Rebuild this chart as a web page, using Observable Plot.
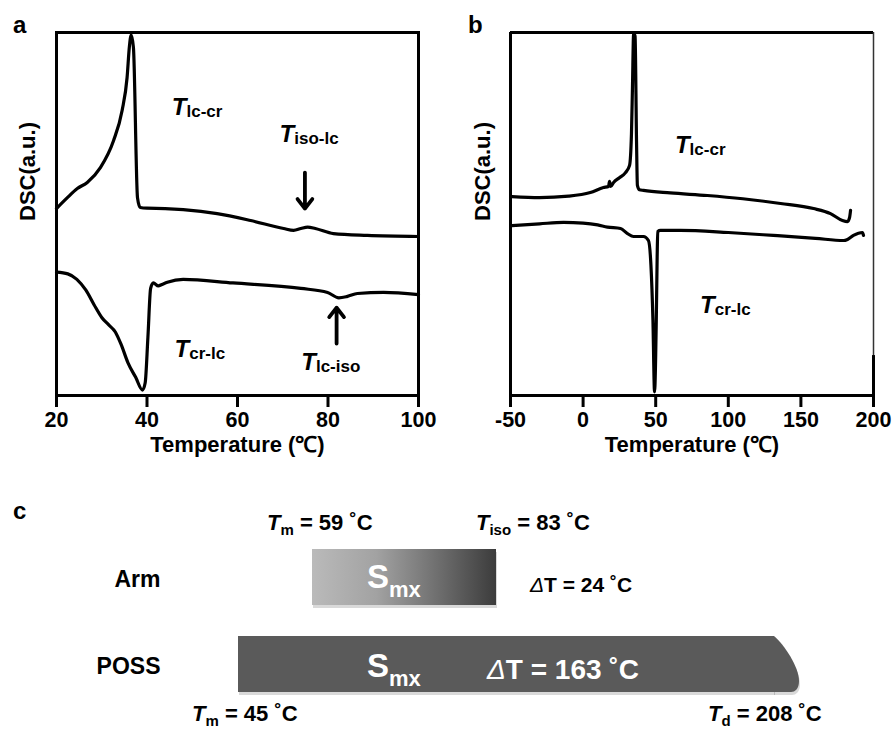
<!DOCTYPE html>
<html><head><meta charset="utf-8">
<script src="https://cdn.jsdelivr.net/npm/d3@7"></script>
<script src="https://cdn.jsdelivr.net/npm/@observablehq/plot@0.6"></script>
<style>
html,body{margin:0;padding:0;background:#fff;}
#fig{position:relative;width:893px;height:731px;overflow:hidden;background:#fff;}
</style></head><body><div id="fig"></div>
<script>
// ---------- data ----------
// panel a (arm): cooling (upper) and heating (lower) traces, DSC in arbitrary units
const aCoolT = [20, 22.4, 24.6, 26.8, 29.7, 32.6, 34.5, 35.6, 36.1, 36.5, 37.0, 37.9, 38.5, 40, 44, 48, 55.5, 62.9, 70.2, 72.4, 74.0, 75.5, 77.2, 81.2, 88.7, 100];
const aCoolV = [51.5, 54.5, 57.0, 58.7, 62.8, 70.2, 78.5, 87.6, 96.0, 99.3, 95.9, 54.5, 51.8, 51.6, 51.5, 51.2, 50.1, 48.2, 46.0, 45.5, 46.0, 46.4, 46.0, 44.6, 44.1, 43.8];
const aHeatT = [20, 22.5, 24.5, 26.5, 28.3, 30.0, 31.5, 33.0, 34.3, 35.8, 37.5, 39.0, 39.6, 40.2, 40.8, 41.4, 42.5, 43.3, 44.5, 48, 59, 74, 79.9, 82.4, 84.3, 86.5, 92.3, 100];
const aHeatV = [34.0, 33.5, 32.0, 29.0, 25.0, 21.5, 19.5, 17.5, 14.0, 9.0, 5.0, 1.5, 3.5, 16, 29.5, 31.0, 30.2, 30.6, 31.2, 32.0, 31.0, 29.5, 28.4, 26.9, 27.3, 28.1, 28.4, 27.8];
const aTicks = [20, 40, 60, 80, 100];
const aLabelSub = ["lc-cr", "iso-lc", "cr-lc", "lc-iso"];
const aLabelT = [45.6, 69.4, 46.2, 74.2];
const aLabelV = [77.1, 69.7, 10.5, 6.9];
const aArrowT = [74.9, 81.9];
const aArrowFrom = [61.4, 14.3];
const aArrowTo = [51.5, 24.2];

// panel b (POSS)
const bCoolT = [-49, -30, -10, 5, 14, 17.5, 18.2, 19.0, 21, 25, 29.2, 32.0, 33.3, 34.0, 34.8, 35.8, 36.8, 37.4, 38.8, 41.6, 60, 85.6, 110, 136, 158.7, 170.4, 178.6, 182.1, 183.5, 184.2];
const bCoolV = [54.8, 54.5, 54.9, 55.9, 57.3, 57.6, 59.0, 57.6, 58.7, 60.0, 61.4, 63.4, 72, 85, 99.7, 99.0, 70, 57.9, 56.7, 56.5, 55.8, 55.1, 54.2, 52.9, 51.5, 50.1, 48.2, 47.9, 49.0, 51.0];
const bHeatT = [-49, -30, -13.5, 0, 10, 16.8, 25.8, 30.6, 34.7, 41.6, 45.0, 46.7, 48.1, 49.2, 50.4, 51.0, 51.4, 53.3, 67, 100, 131, 160, 179.3, 182.1, 186.2, 192.4, 193.1];
const bHeatV = [46.8, 47.3, 47.7, 47.5, 47.0, 46.4, 46.0, 44.6, 43.8, 43.8, 42.7, 36, 20.7, 1.0, 20.7, 38, 45.2, 45.5, 45.5, 44.9, 44.1, 43.3, 42.7, 43.0, 44.1, 44.9, 44.1];
const bTicks = [-50, 0, 50, 100, 150, 200];
const bLabelSub = ["lc-cr", "cr-lc"];
const bLabelT = [63.6, 80.9];
const bLabelV = [66.7, 22.6];

// panel c (mesophase windows)
const cRows = ["Arm", "POSS"];
const cOnset = [59, 45];
const cEnd = [83, 208];
const cEndSymbol = ["iso", "d"];
const cDelta = [24, 163];

// ---------- helpers ----------
const NS = "http://www.w3.org/2000/svg";
const FONT = "'Liberation Sans', Arial, Helvetica, sans-serif";
const toRows = (xs, ys) => xs.map((x, i) => ({T: x, v: ys[i]}));

function richMark(items) {
  return (index, scales, values, dims) => {
    const g = document.createElementNS(NS, "g");
    for (const it of items) {
      let x, y;
      if (it.frame) { x = dims.marginLeft; y = dims.marginTop; }
      else {
        x = scales.x(it.x);
        const sy = scales.y;
        y = typeof it.y === "string" ? sy(it.y) + sy.bandwidth() / 2 : sy(it.y);
      }
      x += it.dx || 0; y += it.dy || 0;
      const t = document.createElementNS(NS, "text");
      t.setAttribute("x", x); t.setAttribute("y", y);
      t.setAttribute("text-anchor", it.anchor || "start");
      t.setAttribute("fill", it.fill || "black");
      t.setAttribute("font-family", FONT);
      t.style.whiteSpace = "pre";
      let shift = 0;
      for (const p of it.parts) {
        const s = document.createElementNS(NS, "tspan");
        s.textContent = p.text;
        s.setAttribute("font-size", p.size);
        s.setAttribute("font-weight", p.weight || "bold");
        if (p.italic) s.setAttribute("font-style", "italic");
        const sh = p.shift || 0;
        if (sh !== shift) { s.setAttribute("dy", sh - shift); shift = sh; }
        t.appendChild(s);
      }
      g.appendChild(t);
    }
    return g;
  };
}
const tSub = (sub) => [{text: "T", size: 24, italic: true}, {text: sub, size: 17, shift: 2}];
const svgStyle = (left, top) =>
  `position:absolute;left:${left}px;top:${top}px;font-family:${FONT};font-size:21px;font-weight:bold;overflow:visible;background:transparent;max-width:none;color:black;`;

const axisOpts = (ticks) => ({ticks, tickSize: 12, tickPadding: 4, strokeWidth: 3, fontSize: 21.5, fontWeight: "bold", tickFormat: d => String(d), label: null});
const lineOpts = {x: "T", y: "v", stroke: "black", strokeWidth: 3.2, curve: "monotone-x", strokeLinejoin: "round"};

// ---------- panel a ----------
const aPlot = Plot.plot({
  width: 440, height: 470,
  marginLeft: 56, marginRight: 22, marginTop: 32, marginBottom: 75,
  style: svgStyle(0, 0),
  x: {domain: [20, 100]},
  y: {domain: [0, 100], axis: null},
  marks: [
    Plot.frame({stroke: "black", strokeWidth: 3}),
    Plot.line(toRows(aCoolT, aCoolV), lineOpts),
    Plot.line(toRows(aHeatT, aHeatV), lineOpts),
    Plot.arrow(aArrowT.map((t, i) => ({t, from: aArrowFrom[i], to: aArrowTo[i]})),
      {x1: "t", x2: "t", y1: "from", y2: "to", stroke: "black", strokeWidth: 3.8, headLength: 20, headAngle: 76}),
    Plot.axisX(axisOpts(aTicks)),
    Plot.text(["Temperature (℃)"], {frameAnchor: "bottom", dy: 56, fontSize: 22, fontWeight: "bold"}),
    Plot.text(["DSC(a.u.)"], {frameAnchor: "left", rotate: -90, dx: -29, dy: 7, fontSize: 22, fontWeight: "bold"}),
    richMark(aLabelSub.map((s, i) => ({x: aLabelT[i], y: aLabelV[i], parts: tSub(s)}))),
    richMark([{frame: true, dx: -43, dy: 1, parts: [{text: "a", size: 24}]}])
  ]
});

// ---------- panel b ----------
const bPlot = Plot.plot({
  width: 453, height: 470,
  marginLeft: 70, marginRight: 20, marginTop: 32, marginBottom: 75,
  style: svgStyle(440, 0),
  x: {domain: [-50, 200]},
  y: {domain: [0, 100], axis: null},
  marks: [
    Plot.ruleY([100], {stroke: "black", strokeWidth: 3}),
    Plot.ruleY([0], {stroke: "black", strokeWidth: 3}),
    Plot.ruleX([-50], {stroke: "black", strokeWidth: 3}),
    Plot.ruleX([200], {stroke: "#333", strokeWidth: 1.5}),
    Plot.ruleX([200], {y1: 0, y2: 11, stroke: "black", strokeWidth: 3}),
    Plot.line(toRows(bCoolT, bCoolV), lineOpts),
    Plot.line(toRows(bHeatT, bHeatV), lineOpts),
    Plot.axisX(axisOpts(bTicks)),
    Plot.text(["Temperature (℃)"], {frameAnchor: "bottom", dy: 56, fontSize: 22, fontWeight: "bold"}),
    Plot.text(["DSC(a.u.)"], {frameAnchor: "left", rotate: -90, dx: -28, dy: 7, fontSize: 22, fontWeight: "bold"}),
    richMark(bLabelSub.map((s, i) => ({x: bLabelT[i], y: bLabelV[i], parts: tSub(s)}))),
    richMark([{frame: true, dx: -42, dy: 1, parts: [{text: "b", size: 24}]}])
  ]
});

// ---------- panel c ----------
const cTable = cRows.map((row, i) => ({row, onset: cOnset[i], end: cEnd[i], sym: cEndSymbol[i], delta: cDelta[i]}));
const cDomain = Array.from(new Set([...cOnset, ...cEnd])).sort((a, b) => a - b);

const defsMark = () => {
  const defs = document.createElementNS(NS, "defs");
  defs.innerHTML = `<linearGradient id="armGrad" x1="0" x2="1" y1="0" y2="0">
    <stop offset="0" stop-color="#bababa"/><stop offset="0.35" stop-color="#a2a2a2"/>
    <stop offset="0.7" stop-color="#6c6c6c"/><stop offset="1" stop-color="#3c3c3c"/></linearGradient>`;
  return defs;
};
// rounded "open" end of the POSS window (decomposition end)
const possEnd = (index, scales) => {
  const g = document.createElementNS(NS, "g");
  const d = cTable[1];
  const x1 = scales.x(d.end), y0 = scales.y(d.row), h = scales.y.bandwidth();
  const shape = (ox, oy) => `M${x1 - 1 + ox},${y0 + oy} L${x1 + ox},${y0 + oy} C${x1 + 10 + ox},${y0 + 0.15 * h + oy} ${x1 + 25 + ox},${y0 + 0.55 * h + oy} ${x1 + 25 + ox},${y0 + 0.8 * h + oy} C${x1 + 25 + ox},${y0 + 0.95 * h + oy} ${x1 + 21 + ox},${y0 + h + oy} ${x1 + 17 + ox},${y0 + h + oy} L${x1 - 1 + ox},${y0 + h + oy} Z`;
  const sh = document.createElementNS(NS, "path");
  sh.setAttribute("d", shape(1, 3)); sh.setAttribute("fill", "black"); sh.setAttribute("fill-opacity", 0.15);
  const p = document.createElementNS(NS, "path");
  p.setAttribute("d", shape(0, 0)); p.setAttribute("fill", "#5a5a5a");
  g.appendChild(sh); g.appendChild(p);
  return g;
};

const cItems = [];
cTable.forEach((d, i) => {
  const above = d.row === "Arm";
  const dyL = above ? -47 : 57;
  cItems.push({x: d.onset, y: d.row, dx: above ? -45 : -46, dy: dyL,
    parts: [{text: "T", size: 22, italic: true}, {text: "m", size: 15, shift: 5}, {text: ` = ${d.onset} ˚C`, size: 22, shift: 0}]});
  cItems.push({x: d.end, y: d.row, dx: above ? -20 : -66, dy: dyL,
    parts: [{text: "T", size: 22, italic: true}, {text: d.sym, size: 15, shift: 5}, {text: ` = ${d.end} ˚C`, size: 22, shift: 0}]});
  cItems.push({x: d.onset, y: d.row, dx: above ? 55 : 129, dy: above ? 11 : 13, fill: "white",
    parts: [{text: "S", size: 33}, {text: "mx", size: 22, shift: 9}]});
  if (above) {
    cItems.push({x: d.end, y: d.row, dx: 34, dy: 15,
      parts: [{text: "Δ", size: 21, italic: true, weight: "normal"}, {text: `T = ${d.delta} ˚C`, size: 21}]});
  } else {
    cItems.push({x: d.onset, y: d.row, dx: 249, dy: 15, fill: "white",
      parts: [{text: "Δ", size: 28, italic: true, weight: "normal"}, {text: `T = ${d.delta} ˚C`, size: 28}]});
  }
});

const cPlot = Plot.plot({
  width: 893, height: 231, margin: 0,
  style: svgStyle(0, 500),
  x: {type: "linear", domain: cDomain, range: [238, 312, 496, 774], axis: null},
  y: {type: "band", domain: cRows, range: [48.5, 193.5], paddingInner: 0.352, paddingOuter: 0, axis: null},
  marks: [
    defsMark,
    Plot.barX(cTable, {x1: "onset", x2: "end", y: "row", fill: "black", fillOpacity: 0.15, dx: 1, dy: 3}),
    Plot.barX(cTable.filter(d => d.row === "Arm"), {x1: "onset", x2: "end", y: "row", fill: "url(#armGrad)"}),
    Plot.barX(cTable.filter(d => d.row === "POSS"), {x1: "onset", x2: "end", y: "row", fill: "#5a5a5a"}),
    possEnd,
    Plot.text(cTable, {y: "row", text: "row", frameAnchor: "left", dx: 160, dy: 2, textAnchor: "end", fontSize: 23, fontWeight: "bold"}),
    richMark(cItems),
    richMark([{frame: true, dx: 13, dy: 19, parts: [{text: "c", size: 24}]}])
  ]
});

const fig = document.getElementById("fig");
fig.append(aPlot, bPlot, cPlot);
</script></body></html>
